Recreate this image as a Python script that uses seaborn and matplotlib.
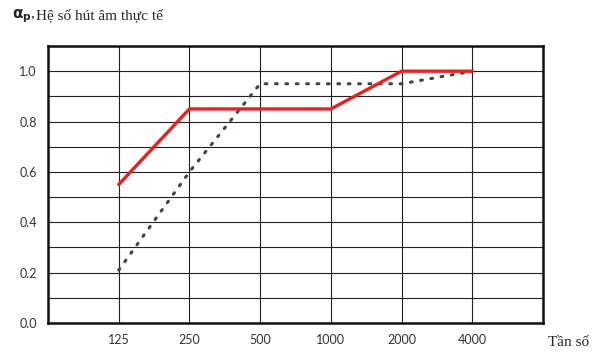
import numpy as np
import pandas as pd
import matplotlib
matplotlib.use('agg')
import matplotlib.pyplot as plt
import seaborn as sns

freqs = ['125', '250', '500', '1000', '2000', '4000']
alpha_red = [0.55, 0.85, 0.85, 0.85, 1.0, 1.0]
alpha_dot = [0.21, 0.60, 0.95, 0.95, 0.95, 1.0]

sns.set_style('white')
plt.rcParams['font.family'] = ['Lato', 'DejaVu Sans']

pos = np.arange(len(freqs))
df = pd.DataFrame({'pos': pos, 'red': alpha_red, 'dot': alpha_dot})

fig = plt.figure(figsize=(6.03, 3.61), dpi=100)
ax = fig.add_axes([48 / 603, 1 - 323 / 361, 495 / 603, 277 / 361])

sns.lineplot(data=df, x='pos', y='dot', ax=ax, color='#444444', lw=2.2,
             linestyle=(0, (0.6, 2.8)), dash_capstyle='round', zorder=3)
sns.lineplot(data=df, x='pos', y='red', ax=ax, color='#e8201f', lw=2.4, zorder=4)

ax.set_xlim(-1, len(freqs))
ax.set_ylim(0, 1.1)
ax.set_xticks(pos)
ax.set_xticklabels(freqs)
ax.set_yticks(np.arange(0, 1.01, 0.2))
ax.set_yticklabels([f'{v:.1f}' for v in np.arange(0, 1.01, 0.2)])
ax.set_yticks(np.arange(0, 1.11, 0.1), minor=True)
ax.grid(True, which='both', axis='y', color='#222222', lw=0.8)
ax.grid(True, which='major', axis='x', color='#222222', lw=0.8)
ax.tick_params(length=0, labelsize=9, colors='#333333', pad=8)
ax.tick_params(axis='y', which='minor', length=0)
ax.set_xlabel('')
ax.set_ylabel('')
for s in ax.spines.values():
    s.set_visible(True)
    s.set_color('#111111')
    s.set_linewidth(1.8)

fig.text(12 / 603, 1 - 16 / 361, r'$\mathbf{\alpha_p}$,', fontsize=11, va='center',
         family=['Liberation Serif'])
fig.text(36 / 603, 1 - 16 / 361, 'Hệ số hút âm thực tế', fontsize=11, va='center',
         family=['Liberation Serif'])
fig.text(548 / 603, 1 - 342 / 361, 'Tần số', fontsize=11, va='center',
         family=['Liberation Serif'])

fig.savefig('out.png', dpi=100)
